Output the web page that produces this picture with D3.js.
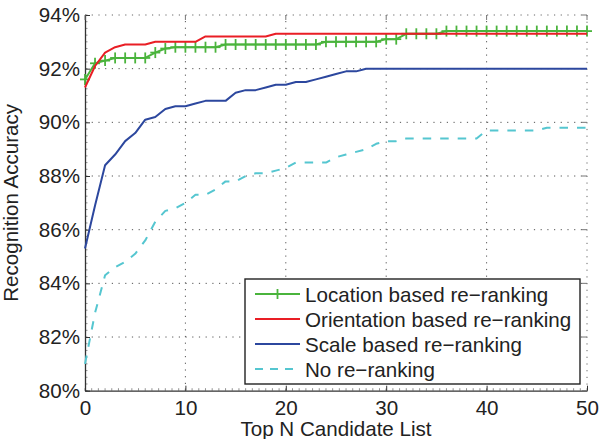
<!DOCTYPE html>
<html>
<head>
<meta charset="utf-8">
<script src="https://cdn.jsdelivr.net/npm/d3@7"></script>
<style>
  html, body { margin: 0; padding: 0; background: #fff; }
  svg { display: block; }
  text { font-family: "Liberation Sans", Arial, Helvetica, sans-serif; fill: #222; }
</style>
</head>
<body>
<svg id="chart" width="599" height="439"></svg>
<script>
// ---- data ----
const topN = d3.range(0, 51);
const locationBased = [91.6, 92.2, 92.3, 92.4, 92.4, 92.4, 92.4, 92.6, 92.75, 92.8,
  92.8, 92.8, 92.8, 92.8, 92.9, 92.9, 92.9, 92.9, 92.9, 92.9,
  92.9, 92.9, 92.9, 92.9, 93.0, 93.0, 93.0, 93.0, 93.0, 93.0,
  93.1, 93.1, 93.3, 93.3, 93.3, 93.3, 93.4, 93.4, 93.4, 93.4,
  93.4, 93.4, 93.4, 93.4, 93.4, 93.4, 93.4, 93.4, 93.4, 93.4, 93.4];
const orientationBased = [91.3, 92.1, 92.6, 92.8, 92.9, 92.9, 92.9, 93.0, 93.0, 93.0,
  93.0, 93.0, 93.2, 93.2, 93.2, 93.2, 93.2, 93.2, 93.2, 93.3,
  93.3, 93.3, 93.3, 93.3, 93.3, 93.3, 93.3, 93.3, 93.3, 93.3,
  93.3, 93.3, 93.3, 93.3, 93.3, 93.3, 93.3, 93.3, 93.3, 93.3,
  93.3, 93.3, 93.3, 93.3, 93.3, 93.3, 93.3, 93.3, 93.3, 93.3, 93.3];
const scaleBased = [85.3, 86.9, 88.4, 88.8, 89.3, 89.6, 90.1, 90.2, 90.5, 90.6,
  90.6, 90.7, 90.8, 90.8, 90.8, 91.1, 91.2, 91.2, 91.3, 91.4,
  91.4, 91.5, 91.5, 91.6, 91.7, 91.8, 91.9, 91.9, 92.0, 92.0,
  92.0, 92.0, 92.0, 92.0, 92.0, 92.0, 92.0, 92.0, 92.0, 92.0,
  92.0, 92.0, 92.0, 92.0, 92.0, 92.0, 92.0, 92.0, 92.0, 92.0, 92.0];
const noReranking = [81.0, 82.9, 84.3, 84.6, 84.8, 85.1, 85.6, 86.3, 86.7, 86.8,
  87.0, 87.3, 87.3, 87.5, 87.8, 87.8, 88.0, 88.1, 88.1, 88.2,
  88.3, 88.5, 88.5, 88.5, 88.5, 88.7, 88.8, 88.9, 89.0, 89.2,
  89.3, 89.3, 89.4, 89.4, 89.4, 89.4, 89.4, 89.4, 89.4, 89.4,
  89.7, 89.7, 89.7, 89.7, 89.7, 89.7, 89.8, 89.8, 89.8, 89.8, 89.8];
const xTicks = [0, 10, 20, 30, 40, 50];
const yTicks = [80, 82, 84, 86, 88, 90, 92, 94];
const seriesNames = ["Location based re\u2212ranking", "Orientation based re\u2212ranking",
  "Scale based re\u2212ranking", "No re\u2212ranking"];
const xLabel = "Top N Candidate List";
const yLabel = "Recognition Accuracy";

// ---- layout ----
const L = 85, R = 587, T = 15, B = 390.7;
const FS = 20.6;
const svg = d3.select("#chart");
const x = d3.scaleLinear().domain([0, 50]).range([L, R]);
const y = d3.scaleLinear().domain([80, 94]).range([B, T]);

const series = [
  { name: seriesNames[0], values: locationBased, color: "#4ab43c", dash: null, marker: true },
  { name: seriesNames[1], values: orientationBased, color: "#e91e25", dash: null, marker: false },
  { name: seriesNames[2], values: scaleBased, color: "#2c479e", dash: null, marker: false },
  { name: seriesNames[3], values: noReranking, color: "#55c6d0", dash: "8.5,9", marker: false }
];

// grid (dotted)
const grid = svg.append("g");
xTicks.filter(t => t > 0 && t < 50).forEach(t => {
  grid.append("line").attr("x1", x(t)).attr("x2", x(t)).attr("y1", B).attr("y2", T)
    .attr("stroke", "#555").attr("stroke-width", 1).attr("stroke-dasharray", "1.2,5.5");
});
yTicks.filter(t => t > 80 && t < 94).forEach(t => {
  grid.append("line").attr("x1", L).attr("x2", R).attr("y1", y(t)).attr("y2", y(t))
    .attr("stroke", "#555").attr("stroke-width", 1).attr("stroke-dasharray", "1.2,5.5");
});
// top & right border (dotted, light)
grid.append("line").attr("x1", L).attr("x2", R).attr("y1", T).attr("y2", T)
  .attr("stroke", "#666").attr("stroke-width", 1).attr("stroke-dasharray", "1.2,5.5");
grid.append("line").attr("x1", R).attr("x2", R).attr("y1", T).attr("y2", B)
  .attr("stroke", "#666").attr("stroke-width", 1).attr("stroke-dasharray", "1.2,5.5");

// minor ticks
const minor = svg.append("g").attr("stroke", "#777").attr("stroke-width", 0.8);
d3.range(80, 94.001, 0.25).forEach(v => {
  minor.append("line").attr("x1", L).attr("x2", L + 2.5).attr("y1", y(v)).attr("y2", y(v));
});
d3.range(0, 50.001, 2 / 3).forEach(v => {
  minor.append("line").attr("x1", x(v)).attr("x2", x(v)).attr("y1", B).attr("y2", B - 2.5);
});

// axes
const xAxis = d3.axisBottom(x).tickValues(xTicks).tickSizeInner(-5).tickSizeOuter(0).tickPadding(9.5)
  .tickFormat(d3.format("d"));
const gx = svg.append("g").attr("transform", `translate(0,${B})`).call(xAxis);
const yAxis = d3.axisLeft(y).tickValues(yTicks).tickSizeInner(-5).tickSizeOuter(0).tickPadding(5)
  .tickFormat(d => d + "%");
const gy = svg.append("g").attr("transform", `translate(${L},0)`).call(yAxis);
[gx, gy].forEach(g => {
  g.select(".domain").attr("stroke", "#333").attr("stroke-width", 1.3);
  g.selectAll(".tick line").attr("stroke", "#333").attr("stroke-width", 1);
  g.selectAll(".tick text").style("font-size", FS + "px").attr("fill", "#222")
    .style("font-family", '"Liberation Sans", Arial, Helvetica, sans-serif');
});
// top/right major ticks
xTicks.forEach(t => svg.append("line").attr("x1", x(t)).attr("x2", x(t)).attr("y1", T).attr("y2", T + 5)
  .attr("stroke", "#777").attr("stroke-width", 1));
yTicks.forEach(t => svg.append("line").attr("x1", R).attr("x2", R - 5).attr("y1", y(t)).attr("y2", y(t))
  .attr("stroke", "#777").attr("stroke-width", 1));

// lines
const line = d3.line().x((d, i) => x(topN[i])).y(d => y(d));
series.forEach(s => {
  svg.append("path").datum(s.values).attr("d", line)
    .attr("fill", "none").attr("stroke", s.color).attr("stroke-width", 2)
    .attr("stroke-linejoin", "round")
    .attr("stroke-dasharray", s.dash);
  if (s.marker) {
    const m = svg.append("g").attr("stroke", s.color).attr("stroke-width", 1.8);
    s.values.forEach((v, i) => {
      const cx = x(topN[i]), cy = y(v);
      m.append("line").attr("x1", cx - 5).attr("x2", cx + 5).attr("y1", cy).attr("y2", cy);
      m.append("line").attr("x1", cx).attr("x2", cx).attr("y1", cy - 5.5).attr("y2", cy + 5.5);
    });
  }
});

// legend
const lg = svg.append("g");
lg.append("rect").attr("x", 245).attr("y", 279).attr("width", 335).attr("height", 105)
  .attr("fill", "#fff").attr("stroke", "#222").attr("stroke-width", 1.4);
series.forEach((s, i) => {
  const ry = 294 + i * 25;
  lg.append("line").attr("x1", 255).attr("x2", 300).attr("y1", ry).attr("y2", ry)
    .attr("stroke", s.color).attr("stroke-width", 2).attr("stroke-dasharray", s.dash ? "8,7" : null);
  if (s.marker) {
    lg.append("line").attr("x1", 277.5).attr("x2", 277.5).attr("y1", ry - 5).attr("y2", ry + 5)
      .attr("stroke", s.color).attr("stroke-width", 1.8);
  }
  lg.append("text").attr("x", 305).attr("y", ry + 7.5).style("font-size", FS + "px").text(s.name);
});

// axis labels
svg.append("text").attr("x", (L + R) / 2).attr("y", 436).attr("text-anchor", "middle")
  .style("font-size", FS + "px").text(xLabel);
svg.append("text").attr("transform", `translate(18,${(T + B) / 2}) rotate(-90)`)
  .attr("text-anchor", "middle").style("font-size", FS + "px").text(yLabel);
</script>
</body>
</html>
